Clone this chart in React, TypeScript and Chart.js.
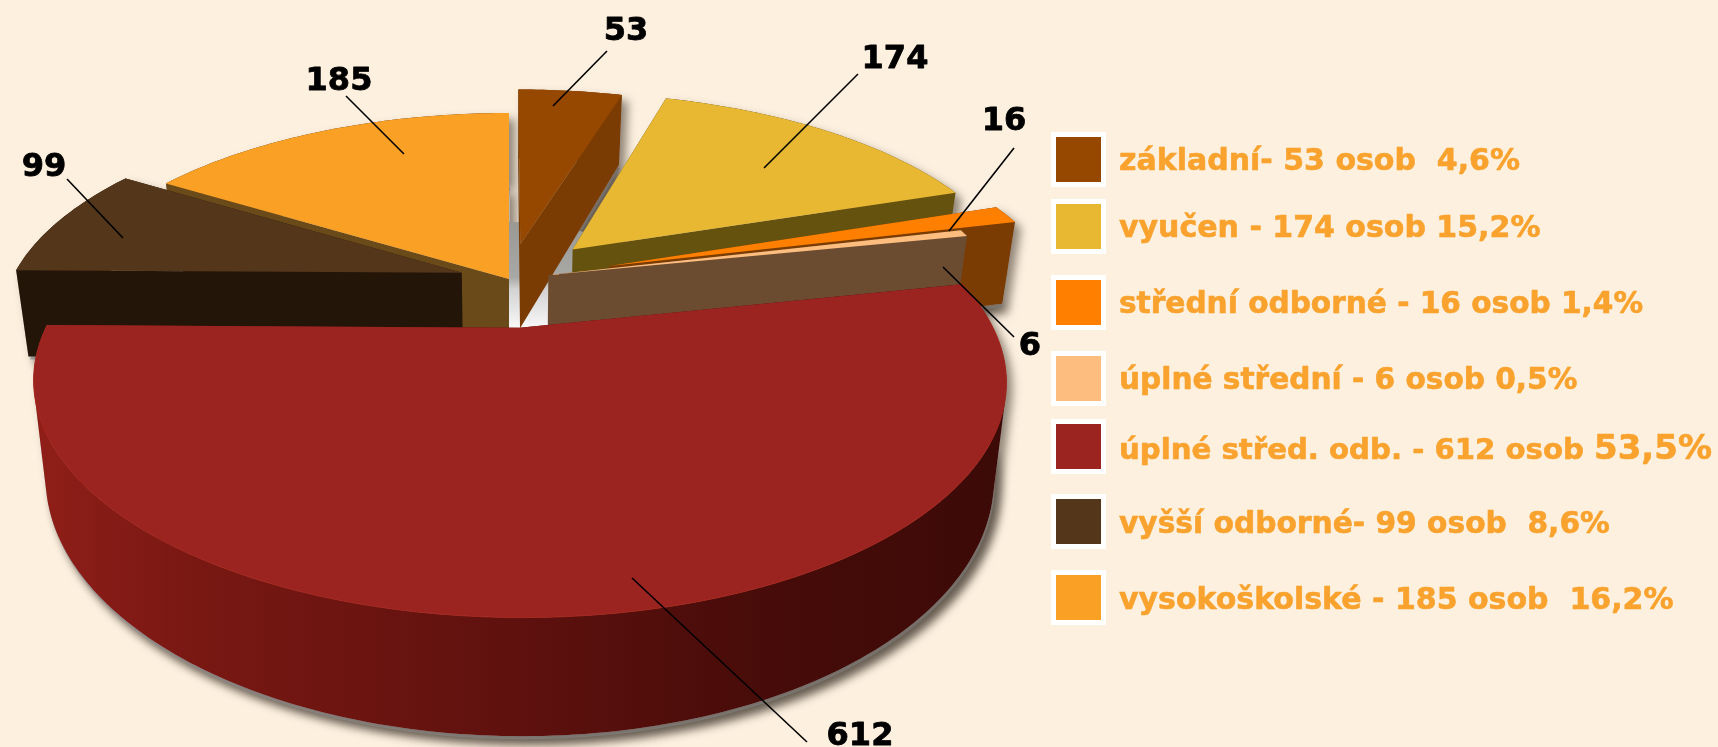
import React, { useEffect, useRef } from "react";
import { Chart, registerables } from "chart.js";

Chart.register(...registerables);

// ---------- data ----------
const categories = ["základní", "vyučen", "střední odborné", "úplné střední", "úplné střed. odb.", "vyšší odborné", "vysokoškolské"];
const values = [53, 174, 16, 6, 612, 99, 185];
const percents = ["4,6%", "15,2%", "1,4%", "0,5%", "53,5%", "8,6%", "16,2%"];
const legendLeads = ["základní- 53 osob  ", "vyučen - 174 osob ", "střední odborné - 16 osob ", "úplné střední - 6 osob ", "úplné střed. odb. - 612 osob ", "vyšší odborné- 99 osob  ", "vysokoškolské - 185 osob  "];

// ---------- styles ----------
const topColors = ["#964800", "#e8b832", "#ff8000", "#fdbd7f", "#9c2420", "#54361a", "#f9a025"];
const wallColors = ["#7a3c02", "#66520f", "#7a3c02", "#6b4c30", "#5c110d", "#241509", "#6b4a1a"];
const explode = [18, 21, 23.5, 9, 23, 11, 0]; // dataset offset, in hundredths of the radius
const paintOrder = [6, 0, 1, 5, 2, 3, 4];
const BG = "#fdf0df";
const TEXT = "#f9a22d";

// camera of the tilted pie
const CX = 509, CY = 279, RX = 450, RY = 202, PERSP = 0.217, DEPTH = 87, BOTTOM_SHRINK = 0.975;

// layout of the annotations
const callouts = [
  { text: "53", tx: 626, ty: 40, x1: 607, y1: 51, x2: 553, y2: 106 },
  { text: "174", tx: 895, ty: 68, x1: 858, y1: 74, x2: 764, y2: 168 },
  { text: "16", tx: 1004, ty: 130, x1: 1014, y1: 148, x2: 949, y2: 231 },
  { text: "6", tx: 1030, ty: 355, x1: 1014, y1: 337, x2: 943, y2: 267 },
  { text: "612", tx: 860, ty: 745, x1: 807, y1: 742, x2: 632, y2: 578 },
  { text: "99", tx: 44, ty: 176, x1: 67, y1: 179, x2: 123, y2: 238 },
  { text: "185", tx: 339, ty: 90, x1: 346, y1: 96, x2: 404, y2: 154 },
];
const legendBoxTops = [132, 199, 275, 351, 419, 494, 570];
const legendBaselines = [170, 237, 313, 389, 459, 533, 609];
const legendFontSizes = [30, 30, 29.6, 29.6, 29.2, 29.7, 30];

type P = [number, number];

function project(gx: number, gy: number): P {
  const w = 1 - PERSP * gy;
  return [CX + (RX * gx) / w, CY + (RY * gy) / w];
}
function projectBottom(gx: number, gy: number): P {
  const w = 1 - PERSP * gy;
  const [x, y] = project(gx, gy);
  return [CX + (x - CX) * BOTTOM_SHRINK, y + DEPTH / w];
}

function poly(ctx: CanvasRenderingContext2D, pts: P[]) {
  ctx.beginPath();
  pts.forEach((p, i) => (i ? ctx.lineTo(p[0], p[1]) : ctx.moveTo(p[0], p[1])));
  ctx.closePath();
}

// All wall quads in one path, all wound the same way, so the fill has no seams.
function wallPath(ctx: CanvasRenderingContext2D, g: any) {
  ctx.beginPath();
  const addQuad = (q: P[]) => {
    let area = 0;
    q.forEach((p, i) => {
      const n = q[(i + 1) % q.length];
      area += p[0] * n[1] - n[0] * p[1];
    });
    const pts = area < 0 ? [...q].reverse() : q;
    pts.forEach((p, i) => (i ? ctx.lineTo(p[0], p[1]) : ctx.moveTo(p[0], p[1])));
    ctx.closePath();
  };
  const last = g.rimTop.length - 1;
  addQuad([g.tipTop, g.rimTop[0], g.rimBot[0], g.tipBot]);
  addQuad([g.tipTop, g.rimTop[last], g.rimBot[last], g.tipBot]);
  for (let k = 0; k < last; k++) {
    addQuad([g.rimTop[k], g.rimTop[k + 1], g.rimBot[k + 1], g.rimBot[k]]);
  }
}

function sliceGeometry(arc: any) {
  const a0 = arc.startAngle, a1 = arc.endAngle;
  const mid = (a0 + a1) / 2;
  const e = (arc.options.offset || 0) / 100;
  const ox = e * Math.cos(mid), oy = e * Math.sin(mid);
  const n = Math.max(2, Math.ceil(((a1 - a0) * 180) / Math.PI));
  const rim: [number, number][] = [];
  for (let i = 0; i <= n; i++) {
    const a = a0 + ((a1 - a0) * i) / n;
    rim.push([ox + Math.cos(a), oy + Math.sin(a)]);
  }
  return {
    tipTop: project(ox, oy),
    tipBot: projectBottom(ox, oy),
    rimTop: rim.map(([x, y]) => project(x, y)),
    rimBot: rim.map(([x, y]) => projectBottom(x, y)),
  };
}

const pie3d = {
  id: "pie3d",
  beforeDatasetDraw(chart: any) {
    const ctx: CanvasRenderingContext2D = chart.ctx;
    const arcs = chart.getDatasetMeta(0).data;
    const geo = arcs.map(sliceGeometry);

    // drop shadows
    ctx.save();
    ctx.shadowColor = "rgba(70,60,50,0.6)";
    ctx.shadowBlur = 10;
    ctx.shadowOffsetX = 6;
    ctx.shadowOffsetY = 6;
    ctx.fillStyle = "#b4b2b2";
    for (const i of paintOrder) {
      const g = geo[i];
      poly(ctx, [g.tipBot, ...g.rimBot].map(([x, y]: P) => [x + 1, y + 3] as P));
      ctx.fill();
      wallPath(ctx, g);
      ctx.fill();
    }
    ctx.restore();

    // pale hub seen in the gaps between the exploded slices
    const hub: P[] = [];
    for (let i = 0; i < 72; i++) {
      const a = (i * Math.PI) / 36;
      hub.push(project(0.3 * Math.cos(a), 0.3 * Math.sin(a)));
    }
    const hubFill = ctx.createLinearGradient(0, 220, 0, 335);
    hubFill.addColorStop(0, "#9a9893");
    hubFill.addColorStop(0.5, "#a8a8a6");
    hubFill.addColorStop(0.6, "#d2d2d2");
    hubFill.addColorStop(1, "#ffffff");
    ctx.fillStyle = hubFill;
    poly(ctx, hub);
    ctx.fill();

    // slices, back to front
    const frontWall = ctx.createLinearGradient(40, 0, 1005, 0);
    frontWall.addColorStop(0, "#8f1e18");
    frontWall.addColorStop(0.15, "#7a1813");
    frontWall.addColorStop(0.5, "#5e110e");
    frontWall.addColorStop(0.75, "#470c09");
    frontWall.addColorStop(1, "#3c0a07");

    for (const i of paintOrder) {
      const g = geo[i];
      ctx.fillStyle = i === 4 ? frontWall : wallColors[i];
      wallPath(ctx, g);
      ctx.fill();
      ctx.fillStyle = arcs[i].options.backgroundColor;
      poly(ctx, [g.tipTop, ...g.rimTop]);
      ctx.fill();
      if (i === 4) {
        ctx.strokeStyle = "#a4271e";
        ctx.lineWidth = 1;
        ctx.beginPath();
        g.rimTop.forEach((p: P, k: number) => (k ? ctx.lineTo(p[0], p[1]) : ctx.moveTo(p[0], p[1])));
        ctx.stroke();
      }
    }
    return false;
  },
  afterDraw(chart: any) {
    const ctx: CanvasRenderingContext2D = chart.ctx;
    ctx.save();
    // leader lines and value labels
    ctx.lineJoin = "round";
    ctx.fillStyle = "#000";
    ctx.strokeStyle = "#000";
    ctx.font = "bold 32px 'DejaVu Sans'";
    ctx.textAlign = "center";
    ctx.textBaseline = "alphabetic";
    callouts.forEach((c) => {
      ctx.lineWidth = 1.6;
      ctx.beginPath();
      ctx.moveTo(c.x1, c.y1);
      ctx.lineTo(c.x2, c.y2);
      ctx.stroke();
      ctx.fillText(c.text, c.tx, c.ty);
      ctx.lineWidth = 0.8;
      ctx.strokeText(c.text, c.tx, c.ty);
    });

    // legend
    ctx.textAlign = "left";
    ctx.lineWidth = 0.6;
    chart.data.labels.forEach((_: string, i: number) => {
      const top = legendBoxTops[i];
      ctx.fillStyle = "#ffffff";
      ctx.fillRect(1051, top, 55, 55);
      ctx.fillStyle = topColors[i];
      ctx.fillRect(1056, top + 5, 45, 45);
      ctx.fillStyle = TEXT;
      ctx.strokeStyle = TEXT;
      ctx.font = `bold ${legendFontSizes[i]}px 'DejaVu Sans'`;
      ctx.fillText(legendLeads[i], 1119, legendBaselines[i]);
      ctx.strokeText(legendLeads[i], 1119, legendBaselines[i]);
      const w = ctx.measureText(legendLeads[i]).width;
      if (i === 4) ctx.font = "bold 34px 'DejaVu Sans'";
      ctx.fillText(percents[i], 1119 + w, legendBaselines[i]);
      ctx.strokeText(percents[i], 1119 + w, legendBaselines[i]);
    });
    ctx.restore();
  },
};

export default function App() {
  const ref = useRef<HTMLCanvasElement>(null);
  useEffect(() => {
    document.body.style.margin = "0";
    document.body.style.background = BG;
    const chart = new Chart(ref.current as HTMLCanvasElement, {
      type: "pie",
      data: {
        labels: categories,
        datasets: [{ data: values, backgroundColor: topColors, offset: explode, borderWidth: 0 }],
      },
      options: {
        responsive: false,
        animation: false,
        events: [],
        plugins: { legend: { display: false }, tooltip: { enabled: false } },
      },
      plugins: [pie3d],
    } as any);
    return () => chart.destroy();
  }, []);
  return <canvas ref={ref} width={1718} height={747} style={{ display: "block", background: BG }} />;
}
